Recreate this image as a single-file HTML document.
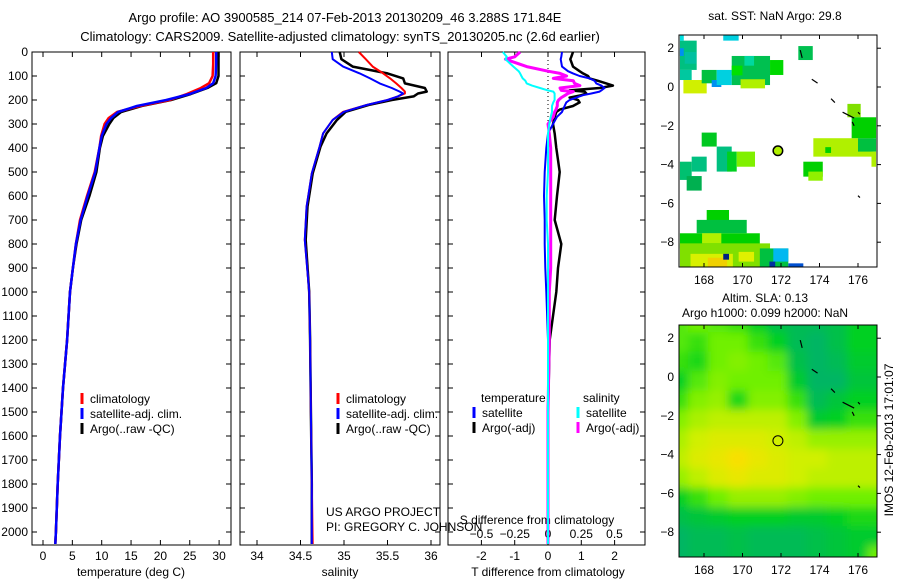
<!DOCTYPE html>
<html><head><meta charset="utf-8">
<style>
html,body{margin:0;padding:0;background:#fff;}
svg{display:block;font-family:"Liberation Sans",sans-serif;}
text{font-size:12px;fill:#000;}
</style></head>
<body>
<svg id="chart" width="900" height="580" viewBox="0 0 900 580" xmlns="http://www.w3.org/2000/svg">
<defs>
<clipPath id="clipM1"><rect x="679" y="35" width="198" height="232"/></clipPath>
<clipPath id="clipM2"><rect x="679" y="325" width="198" height="232"/></clipPath>
<filter id="blur" x="-10%" y="-10%" width="120%" height="120%"><feGaussianBlur stdDeviation="4.5"/></filter>
</defs>
<text x="345" y="22" text-anchor="middle" style="font-size:13px">Argo profile: AO 3900585_214 07-Feb-2013 20130209_46 3.288S 171.84E</text>
<text x="340" y="41" text-anchor="middle" style="font-size:13px">Climatology: CARS2009. Satellite-adjusted climatology: synTS_20130205.nc (2.6d earlier)</text>
<g id="g1"></g>
<g id="g2"></g>
<g id="g3"></g>
<g id="m1"></g>
<g id="m2"></g>
<text x="775" y="20" text-anchor="middle">sat. SST: NaN Argo: 29.8</text>
<text x="765" y="302" text-anchor="middle">Altim. SLA: 0.13</text>
<text x="765" y="317" text-anchor="middle">Argo h1000: 0.099 h2000: NaN</text>
<text transform="translate(893,440) rotate(-90)" text-anchor="middle">IMOS 12-Feb-2013 17:01:07</text>
</svg>
<script>
// ---- data ----
const depthT=[0,50,100,130,150,175,200,225,250,275,300,350,400,500,600,700,800,900,1000,1200,1400,1600,1800,2000,2050];
const tClim=[29.0,29.0,28.9,28.3,26.9,24.5,21.6,16.5,12.6,11.2,10.5,9.9,9.6,8.8,7.5,6.3,5.6,5.1,4.6,4.1,3.4,2.9,2.5,2.2,2.1];
const tSat=[29.5,29.5,29.4,29.0,27.8,25.0,21.0,16.0,12.8,11.6,10.8,10.0,9.6,8.9,7.6,6.4,5.6,5.1,4.6,4.1,3.4,2.9,2.5,2.2,2.1];
const tArgo=[29.9,29.9,29.9,29.5,28.0,25.2,21.8,16.8,13.3,12.0,11.3,10.2,9.7,9.1,7.9,6.5,5.7,5.1,4.6,4.1,3.4,2.9,2.5,2.2,2.1];
const depthS=[0,30,61,89,110,131,150,165,173,185,200,221,249,283,339,394,506,644,783,1000,1200,1500,1800,2050];
const sClim=[35.17,35.25,35.33,35.45,35.53,35.6,35.66,35.7,35.7,35.62,35.5,35.26,34.99,34.87,34.76,34.72,34.63,34.57,34.55,34.6,34.61,34.62,34.63,34.64];
const sSat=[34.86,34.87,34.99,35.18,35.3,35.41,35.55,35.64,35.68,35.62,35.5,35.26,35.0,34.87,34.76,34.72,34.63,34.57,34.55,34.6,34.61,34.62,34.63,34.63];
const sArgo=[34.95,34.97,35.1,35.5,35.68,35.7,35.93,35.95,35.85,35.8,35.55,35.28,35.02,34.92,34.8,34.73,34.64,34.58,34.56,34.6,34.61,34.62,34.63,34.63];
const depthD=[0,20,30,61,80,89,100,110,120,131,140,150,160,165,173,180,190,200,210,225,240,250,270,300,340,400,500,600,700,800,900,1000,1200,1500,1800,2050];
const dTsat=[0.42,0.4,0.38,0.42,0.6,0.75,0.95,1.25,1.4,1.45,1.6,1.7,1.6,1.55,1.3,1.05,0.85,0.65,0.55,0.5,0.45,0.42,0.27,0.15,0.0,-0.05,-0.1,-0.12,-0.1,-0.1,-0.08,-0.05,0,0,0,0];
const dTargo=[0.75,0.7,0.67,0.75,0.95,1.05,1.2,1.25,1.5,1.75,1.95,1.55,0.65,1.1,1.15,1.0,0.65,0.9,0.95,0.75,0.35,0.25,0.2,0.15,0.2,0.25,0.35,0.27,0.2,0.4,0.3,0.25,0.05,0,0,0];
const dSsat=[-0.34,-0.31,-0.32,-0.26,-0.22,-0.21,-0.2,-0.19,-0.17,-0.16,-0.12,-0.06,0.0,0.04,0.05,0.05,0.05,0.05,0.04,0.03,0.03,0.03,0.02,0.01,0,0,0,-0.01,-0.01,0,0,0,0,0,0,0];
const dSargo=[-0.21,-0.25,-0.32,-0.16,0.0,0.09,0.14,0.04,0.19,0.2,0.24,0.09,0.1,0.19,0.15,0.13,0.1,0.08,0.07,0.07,0.06,0.05,0.04,0.0,0.01,0.02,0.02,0.02,0.02,0.02,0.02,0.01,0.01,0,0,0];
const depthTicks=[0,100,200,300,400,500,600,700,800,900,1000,1100,1200,1300,1400,1500,1600,1700,1800,1900,2000];
const tTicks=[0,5,10,15,20,25,30];
const sTicks=[34,34.5,35,35.5,36];
const sTickLabels=['34','34.5','35','35.5','36'];
const dTTicks=[-2,-1,0,1,2];
const dSTicks=[-0.5,-0.25,0,0.25,0.5];
const lonTicks=[168,170,172,174,176];
const latTicks=[2,0,-2,-4,-6,-8];
const argoLon=171.84, argoLat=-3.288;
// SST patches: [lon0,lat0,lon1,lat1,color]
const sstPatches=[
[166.75,2.39,167.62,0.88,'#00c080'],[166.75,2.7,166.95,2.39,'#00e0e0'],[169.0,2.7,169.8,2.39,'#00d0e0'],
[166.75,2.0,166.95,1.6,'#0090f0'],[167.0,1.8,167.6,1.2,'#00c0a0'],
[166.75,0.88,167.36,0.36,'#00c8a0'],[166.93,0.36,168.14,-0.33,'#d0f000'],
[167.88,0.88,168.66,0.19,'#00c040'],[168.4,0.36,168.9,0.0,'#0090f0'],[168.66,0.88,169.44,0.1,'#00d0e0'],
[169.44,1.6,171.43,0.1,'#00c050'],[170.1,1.6,170.6,1.1,'#00d8a0'],[169.9,0.4,171.17,-0.07,'#b0f000'],[169.44,1.1,170.0,0.6,'#00e000'],
[171.43,1.39,172.12,0.62,'#00d800'],[172.9,2.11,173.65,1.39,'#00c050'],
[167.88,-2.35,168.66,-3.07,'#00c820'],[168.66,-3.07,169.44,-4.36,'#00c080'],[169.2,-3.33,169.7,-4.36,'#00d020'],
[169.7,-3.33,170.65,-4.11,'#80f000'],[167.36,-3.59,168.14,-4.36,'#00c080'],
[166.75,-3.85,167.36,-4.79,'#00c070'],[167.1,-4.59,167.88,-5.34,'#00b050'],
[173.68,-2.64,176.8,-3.59,'#b0f000'],[174.3,-3.1,174.6,-3.4,'#00d000'],[175.45,-0.87,176.14,-1.56,'#80e000'],
[175.67,-1.56,176.94,-2.64,'#00d000'],[176.0,-2.64,176.94,-3.33,'#00c040'],[176.7,-3.33,176.94,-4.11,'#b0f000'],
[173.16,-3.85,174.17,-4.62,'#00d000'],[173.42,-4.36,174.17,-4.83,'#90f000'],
[168.14,-6.34,169.3,-7.0,'#00d000'],[167.62,-6.85,170.22,-7.54,'#00c040'],[166.75,-7.54,170.9,-8.32,'#00d000'],
[167.9,-7.54,168.9,-8.06,'#b0f000'],[166.75,-8.06,171.43,-9.26,'#80e000'],[167.3,-8.6,169.5,-9.26,'#d8f000'],
[168.2,-8.8,169.2,-9.26,'#f0d000'],[169.8,-8.5,170.6,-9.0,'#e0f000'],[169.0,-8.6,169.3,-8.9,'#002080'],
[170.9,-8.32,172.38,-9.26,'#00c040'],[171.6,-8.32,172.38,-9.0,'#00b8f0'],[171.4,-9.0,171.7,-9.26,'#0030a0'],
[172.38,-9.09,173.16,-9.26,'#0050d0']];
// SLA field rows (lat 2.7 downwards, 1 deg), cols lon 166.75..177
const slaRows=[
[0.45,0.5,0.45,0.4,0.3,0.15,0.1,0.1,0.15,0.3],
[0.45,0.4,0.5,0.5,0.4,0.3,0.1,0.05,0.15,0.3],
[0.4,0.35,0.5,0.55,0.5,0.45,0.15,0.05,0.1,0.25],
[0.3,0.45,0.55,0.5,0.5,0.5,0.25,0.05,0.05,0.2],
[0.4,0.55,0.6,0.35,0.55,0.55,0.4,0.1,0.2,0.3],
[0.55,0.65,0.7,0.7,0.7,0.7,0.55,0.25,0.3,0.4],
[0.65,0.75,0.8,0.8,0.8,0.75,0.7,0.6,0.6,0.6],
[0.7,0.8,0.85,0.92,0.85,0.8,0.75,0.75,0.7,0.7],
[0.6,0.7,0.8,0.85,0.8,0.8,0.75,0.7,0.7,0.7],
[0.3,0.4,0.5,0.6,0.6,0.6,0.55,0.5,0.5,0.5],
[0.15,0.2,0.25,0.3,0.3,0.3,0.25,0.25,0.3,0.35],
[0.05,0.1,0.1,0.15,0.1,0.1,0.1,0.15,0.2,0.25]];

const NS='http://www.w3.org/2000/svg';
function mk(p,tag,attrs,txt){const e=document.createElementNS(NS,tag);for(const k in attrs)e.setAttribute(k,attrs[k]);if(txt!==undefined)e.textContent=txt;p.appendChild(e);return e;}
const Y=d=>52+d*0.24;
function frame(g,x0,x1){const r=mk(g,'rect',{x:x0,y:52,width:x1-x0,height:493,fill:'none',stroke:'#000','stroke-width':1});

depthTicks.forEach(d=>{mk(g,'line',{x1:x0,x2:x0+5,y1:Y(d),y2:Y(d),stroke:'#000'});mk(g,'line',{x1:x1-5,x2:x1,y1:Y(d),y2:Y(d),stroke:'#000'});});}
function line(g,xs,ds,X,color,w,name){const pts=xs.map((v,i)=>X(v).toFixed(1)+','+Y(ds[i]).toFixed(1)).join(' ');
const e=mk(g,'polyline',{points:pts,fill:'none',stroke:color,'stroke-width':w,'stroke-linejoin':'round'});
}
function xticks(g,ticks,labels,X,yb,yt,ly){ticks.forEach((t,i)=>{mk(g,'line',{x1:X(t),x2:X(t),y1:yb-5,y2:yb,stroke:'#000'});mk(g,'line',{x1:X(t),x2:X(t),y1:yt,y2:yt+5,stroke:'#000'});
const l=mk(g,'text',{x:X(t),y:ly,'text-anchor':'middle'},labels[i]);});}
function legend(g,x,y,items){items.forEach((it,i)=>{mk(g,'line',{x1:x,x2:x,y1:y+i*15-5,y2:y+i*15+6,stroke:it[1],'stroke-width':3});
const t=mk(g,'text',{x:x+8,y:y+i*15+5},it[0]);});}

// Panel 1
const g1=document.getElementById('g1');const XT=t=>43+t*5.87;
frame(g1,32,231);
depthTicks.forEach(d=>{const t=mk(g1,'text',{x:28,y:Y(d)+4,'text-anchor':'end'},String(d));});
xticks(g1,tTicks,tTicks.map(String),XT,545,52,560);
mk(g1,'text',{x:131,y:576,'text-anchor':'middle'},'temperature (deg C)');
line(g1,tArgo,depthT,XT,'#000',2.5,'argo-temperature');
line(g1,tClim,depthT,XT,'#f00',2.5,'clim-temperature');
line(g1,tSat,depthT,XT,'#00f',2.5,'sat-temperature');
legend(g1,82,398,[['climatology','#f00'],['satellite-adj. clim.','#00f'],['Argo(..raw -QC)','#000']]);

// Panel 2
const g2=document.getElementById('g2');const XS=s=>257+(s-34)*87;
frame(g2,240,440);
xticks(g2,sTicks,sTickLabels,XS,545,52,560);
mk(g2,'text',{x:340,y:576,'text-anchor':'middle'},'salinity');
line(g2,sArgo,depthS,XS,'#000',2.5,'argo-salinity');
line(g2,sClim,depthS,XS,'#f00',2,'clim-salinity');
line(g2,sSat,depthS,XS,'#00f',2,'sat-salinity');
legend(g2,338,398,[['climatology','#f00'],['satellite-adj. clim.','#00f'],['Argo(..raw -QC)','#000']]);
mk(g2,'text',{x:326,y:516},'US ARGO PROJECT');
mk(g2,'text',{x:326,y:531},'PI: GREGORY C. JOHNSON');

// Panel 3
const g3=document.getElementById('g3');const XD=t=>548+t*33.3;const XDS=s=>548+s*133;
mk(g3,'rect',{x:448,y:52,width:197,height:493,fill:'none',stroke:'#000'});
depthTicks.forEach(d=>{mk(g3,'line',{x1:448,x2:453,y1:Y(d),y2:Y(d),stroke:'#000'});mk(g3,'line',{x1:640,x2:645,y1:Y(d),y2:Y(d),stroke:'#000'});});
dTTicks.forEach(t=>{mk(g3,'line',{x1:XD(t),x2:XD(t),y1:540,y2:545,stroke:'#000'});const l=mk(g3,'text',{x:XD(t),y:560,'text-anchor':'middle'},String(t));});
dSTicks.forEach(t=>{mk(g3,'line',{x1:XDS(t),x2:XDS(t),y1:52,y2:57,stroke:'#000'});const l=mk(g3,'text',{x:XDS(t),y:538,'text-anchor':'middle'},String(t).replace('-','\u2212'));});
mk(g3,'text',{x:537,y:524,'text-anchor':'middle'},'S difference from climatology');
mk(g3,'text',{x:548,y:576,'text-anchor':'middle'},'T difference from climatology');
mk(g3,'line',{x1:548,x2:548,y1:52,y2:135,stroke:'#000','stroke-dasharray':'1,3'});
line(g3,dTargo,depthD,XD,'#000',2.5,'argo-t-diff');
line(g3,dTsat,depthD,XD,'#00f',2,'sat-t-diff');
line(g3,dSargo,depthD,XDS,'#f0f',3,'argo-s-diff');
line(g3,dSsat,depthD,XDS,'#0ff',2,'sat-s-diff');
mk(g3,'text',{x:481,y:402},'temperature');mk(g3,'text',{x:583,y:402},'salinity');
legend(g3,474,412,[['satellite','#00f'],['Argo(-adj)','#000']]);
legend(g3,578,412,[['satellite','#0ff'],['Argo(-adj)','#f0f']]);

// Maps
const LX=l=>704+(l-168)*19.25;
function mapAxes(g,top){const LY=a=>top+52-a*19.4;const bottom=top+232;
mk(g,'rect',{x:679,y:top,width:198,height:232,fill:'none',stroke:'#000'});
lonTicks.forEach(l=>{mk(g,'line',{x1:LX(l),x2:LX(l),y1:top,y2:top+4,stroke:'#000'});mk(g,'line',{x1:LX(l),x2:LX(l),y1:bottom-4,y2:bottom,stroke:'#000'});
const t=mk(g,'text',{x:LX(l),y:bottom+17,'text-anchor':'middle'},String(l));});
latTicks.forEach(a=>{mk(g,'line',{x1:877,x2:881,y1:LY(a),y2:LY(a),stroke:'#000'});
const t=mk(g,'text',{x:674,y:LY(a)+4,'text-anchor':'end'},String(a).replace('-','\u2212'));});
const c=mk(g,'circle',{cx:LX(argoLon),cy:LY(argoLat),r:5,fill:'none',stroke:'#000','stroke-width':1});

[[173.0,1.9,173.1,1.5],[173.6,0.4,173.9,0.2],[174.6,-0.6,174.8,-0.8],[175.2,-1.3,175.8,-1.6],[176.0,-1.3,176.1,-1.4],[175.7,-1.8,175.8,-2.0],[176.0,-5.6,176.1,-5.7]].forEach(s=>mk(g,'line',{x1:LX(s[0]),y1:LY(s[1]),x2:LX(s[2]),y2:LY(s[3]),stroke:'#000','stroke-width':1.2}));
return LY;}
const m1=document.getElementById('m1');const LY1=a=>87-a*19.4;
const cg1=mk(m1,'g',{'clip-path':'url(#clipM1)'});
sstPatches.forEach(p=>{const r=mk(cg1,'rect',{x:LX(p[0]),y:LY1(p[1]),width:LX(p[2])-LX(p[0]),height:LY1(p[3])-LY1(p[1]),fill:p[4]});
});
mapAxes(m1,35);
mk(m1,'circle',{cx:LX(argoLon),cy:LY1(argoLat),r:4.5,fill:'#b0f000',stroke:'#000'});

const m2=document.getElementById('m2');const LY2=a=>377-a*19.4;
const cg2=mk(m2,'g',{'clip-path':'url(#clipM2)'});
const stops=[[0,[0,176,112]],[0.3,[0,208,32]],[0.5,[112,240,0]],[0.75,[208,240,0]],[0.92,[248,224,0]]];
function cmap(v){for(let i=1;i<stops.length;i++){if(v<=stops[i][0]||i==stops.length-1){const a=stops[i-1],b=stops[i];const f=Math.max(0,Math.min(1,(v-a[0])/(b[0]-a[0])));
return 'rgb('+a[1].map((c,k)=>Math.round(c+(b[1][k]-c)*f)).join(',')+')';}}}
const bg=mk(cg2,'g',{filter:'url(#blur)'});
mk(bg,'rect',{x:660,y:310,width:240,height:270,fill:cmap(0.5)});
slaRows.forEach((row,j)=>row.forEach((v,i)=>{const lon0=166.75+i*1.03-0.6,lat0=2.7-j*1.0+0.6;
const r=mk(bg,'rect',{x:LX(lon0),y:LY2(lat0),width:1.03*19.25+1,height:19.4+1,fill:cmap(v)});

if(j==0){mk(bg,'rect',{x:LX(lon0),y:LY2(lat0)-25,width:21,height:26,fill:cmap(v)});}
if(j==slaRows.length-1){mk(bg,'rect',{x:LX(lon0),y:LY2(lat0),width:21,height:45,fill:cmap(v)});}
if(i==0){mk(bg,'rect',{x:LX(lon0)-25,y:LY2(lat0),width:26,height:20,fill:cmap(v)});}
if(i==row.length-1){mk(bg,'rect',{x:LX(lon0),y:LY2(lat0),width:45,height:20,fill:cmap(v)});}
}));
mapAxes(m2,325);
</script>
</body></html>
